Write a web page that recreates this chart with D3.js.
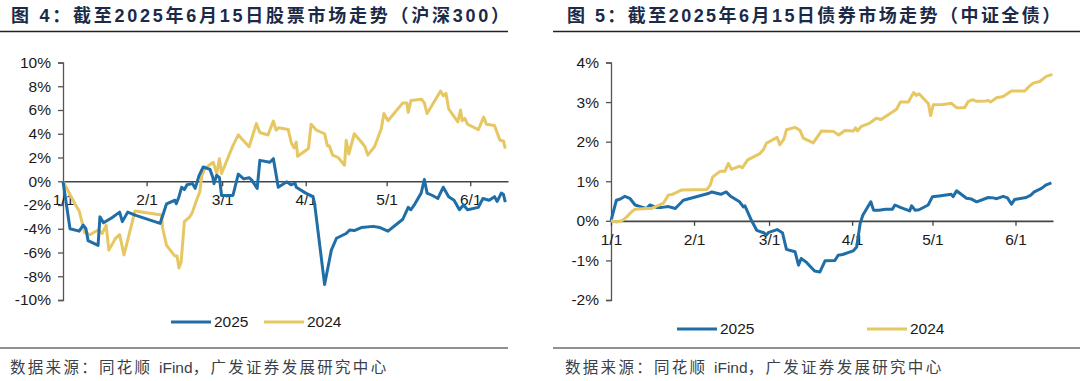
<!DOCTYPE html>
<html><head><meta charset="utf-8">
<script src="https://cdn.jsdelivr.net/npm/d3@7"></script>
<style>
body{margin:0;background:#fff;}
svg{display:block;font-family:"Liberation Sans","Noto Sans CJK SC",sans-serif;}
</style></head>
<body><svg id="c" width="1080" height="381"></svg>
<script>
// ---- data (x = days since Jan 1) ----
const monthTickDays = [0, 31, 59, 90, 120, 151];
const monthTickLabels = ["1/1", "2/1", "3/1", "4/1", "5/1", "6/1"];
const seriesNames = ["2025", "2024"];

const stockTicks = [-10, -8, -6, -4, -2, 0, 2, 4, 6, 8, 10];
const bondTicks = [-2, -1, 0, 1, 2, 3, 4];

const stock2025 = [[0,0],[2.6,-4.0],[6,-4.2],[7.5,-3.7],[8.5,-4.0],[9.3,-5.0],[13,-5.4],[13.7,-3.0],[15,-3.5],[18,-3.1],[21,-2.6],[22,-3.4],[24,-2.6],[26.7,-2.85],[36,-3.55],[38.4,-1.9],[41.5,-1.6],[42,-1.9],[43,-1.3],[44,-0.5],[45,-0.7],[46,-0.3],[48,-0.2],[49,-0.6],[50.5,0.5],[52,1.2],[54.5,1.0],[55.5,0.36],[56,-0.2],[57,0.5],[58,0.3],[58.8,-1.2],[63,-1.2],[65,0.6],[67,0.2],[69,0.3],[70,0.1],[72,-0.6],[73,1.76],[76.7,1.6],[78,1.9],[79,0.6],[79.8,-0.5],[83,-0.05],[84.5,-0.3],[86,-0.15],[86.5,-0.5],[90,-1.0],[92.7,-1.3],[93.3,-1.9],[97,-8.7],[99.5,-5.8],[101.4,-4.8],[105,-4.4],[106.3,-4.1],[108,-4.15],[110.6,-3.9],[115,-3.8],[117.5,-3.9],[120.5,-4.2],[126,-3.2],[128,-2.2],[129,-2.4],[130.5,-1.9],[132.8,-1.0],[134,0.15],[135,-1.0],[137,-1.2],[139,-1.45],[141,-0.5],[143,-1.3],[145,-1.6],[147,-2.4],[148.5,-2.0],[150,-2.4],[154,-2.2],[155.7,-1.45],[158,-1.6],[160,-1.3],[161,-1.7],[162.5,-1.0],[163.3,-1.1],[164,-1.75]];

const stock2024 = [[0,0],[4.4,-1.9],[6,-2.5],[8,-4.3],[10,-4.5],[13,-4.1],[14.5,-4.4],[16,-3.7],[17,-5.8],[19.5,-4.8],[21,-4.5],[22.6,-6.2],[24.5,-4.5],[26.7,-2.5],[36.5,-2.85],[37,-4.0],[38.4,-5.4],[41.5,-6.3],[42.3,-6.3],[43,-7.3],[43.8,-6.8],[45,-3.4],[47,-3.0],[48,-2.6],[49.5,-1.6],[50.7,-0.9],[51.5,0.5],[52.6,1.07],[55.7,1.6],[57,0.65],[58,1.9],[58.8,0.65],[63,3.0],[65,3.9],[69,2.9],[71.7,4.85],[73,4.1],[76,3.9],[78,5.07],[79,4.3],[80,4.5],[83.5,4.35],[84.7,3.2],[85.7,2.8],[86.5,3.3],[87,2.1],[91,2.75],[92,4.8],[94,4.3],[97,4.0],[98,3.0],[98.7,3.0],[100,2.2],[102,2.0],[104.4,1.35],[105,3.45],[106,2.3],[108,4.0],[111,3.2],[112,2.9],[113,2.2],[115.5,2.9],[118,4.4],[119,5.7],[120.5,5.1],[126,6.6],[127.5,6.6],[128,5.8],[129,6.8],[133,6.9],[134,6.6],[135,5.7],[140,7.6],[141,7.2],[142,7.4],[143,6.1],[146.4,5.0],[147.4,6.0],[148,5.1],[149,5.3],[150,4.8],[154,4.35],[156,5.4],[157,4.8],[160,4.7],[162,3.45],[163.3,3.4],[164,2.75]];

const bond2025 = [[0,0],[2,0.52],[3.5,0.55],[5.2,0.62],[7,0.57],[9,0.4],[11,0.36],[13.3,0.31],[14.5,0.4],[17,0.34],[19,0.34],[21.5,0.36],[24,0.31],[27,0.52],[36.3,0.69],[37.6,0.73],[41,0.67],[43,0.73],[44.5,0.63],[48,0.48],[49.4,0.35],[50,0.38],[52.5,0],[54.4,-0.24],[57,-0.3],[58,-0.36],[58.7,-0.3],[62,-0.22],[64,-0.3],[65.5,-0.72],[68.7,-0.78],[70,-1.12],[71,-0.95],[73,-1.05],[76,-1.27],[78,-1.29],[79.9,-1.01],[83.6,-1.0],[84.8,-0.87],[86.5,-0.85],[90.4,-0.76],[91.7,-0.66],[93,-0.07],[94,0.14],[97,0.48],[98,0.27],[100,0.27],[102.5,0.29],[105,0.29],[106,0.4],[108,0.34],[110,0.29],[111.5,0.25],[112.2,0.38],[113.5,0.27],[115,0.28],[118.4,0.4],[120,0.61],[122.5,0.63],[127,0.67],[127.7,0.61],[129,0.76],[132.7,0.57],[134.6,0.55],[136.5,0.48],[140.8,0.59],[142.7,0.58],[144,0.56],[146.4,0.62],[148,0.58],[149.5,0.42],[150.7,0.54],[155,0.59],[156.7,0.65],[158,0.73],[160.7,0.82],[162.5,0.91],[164.4,0.96]];

const bond2024 = [[0,0],[2,-0.03],[4,0],[5.9,0.1],[7.7,0.23],[9,0.29],[13.3,0.31],[15,0.31],[17,0.37],[19.5,0.44],[21.4,0.65],[23,0.67],[26.4,0.78],[35.7,0.79],[37,0.9],[38,1.11],[40.7,1.25],[42.5,1.25],[43.8,1.45],[45,1.3],[48,1.38],[49,1.34],[51,1.54],[55.6,1.7],[57,1.81],[58,1.96],[62,2.11],[63,1.92],[64.5,2.06],[65.5,2.3],[68.7,2.36],[70.5,2.29],[71.8,2.09],[75.5,1.97],[78.6,2.27],[83,2.26],[85,2.17],[87.3,2.28],[90.5,2.27],[91.3,2.35],[92,2.27],[93.3,2.38],[96.6,2.47],[99,2.59],[100.8,2.56],[103.5,2.68],[106.6,2.82],[108,3.0],[111,3.0],[113,3.24],[114,3.17],[115,3.21],[117.8,3.01],[118.5,2.96],[119.3,2.66],[120.3,2.93],[124,2.94],[127,2.97],[129,2.86],[132,2.86],[133.3,3.01],[135,3.06],[136.5,3.02],[140,3.03],[140.8,3.04],[141.7,3.0],[143.9,3.11],[146.4,3.14],[149.5,3.28],[154.5,3.28],[155.7,3.37],[157.6,3.48],[160,3.52],[162.5,3.65],[164.8,3.7]];

const titles = ["图 4：截至2025年6月15日股票市场走势（沪深300）", "图 5：截至2025年6月15日债券市场走势（中证全债）"];
const sourceParts = ["数据来源：同花顺 ", "iFind", "，广发证券发展研究中心"];

// ---- drawing ----
const svg = d3.select("#c");
const BLUE = "#1f6ea8", YELLOW = "#e6c762";
const colors = [BLUE, YELLOW];

function panel(cfg) {
  const g = svg.append("g");
  g.append("text").attr("x", cfg.titleX).attr("y", 22)
    .attr("font-size", 18).attr("font-weight", "bold").attr("fill", "#1b2a47")
    .attr("letter-spacing", cfg.titleSpacing + "px").text(cfg.title);
  g.append("line").attr("x1", cfg.lineX1).attr("x2", cfg.lineX2).attr("y1", 31.5).attr("y2", 31.5)
    .attr("stroke", "#222").attr("stroke-width", 1.6);
  const x = d3.scaleLinear().domain([0, 165]).range([cfg.x0, cfg.x1]);
  const y = d3.scaleLinear().domain(cfg.yDomain).range([300, 62.5]);
  const ya = g.append("g").attr("transform", `translate(${cfg.x0},0)`)
    .call(d3.axisLeft(y).tickValues(cfg.yTicks).tickSize(5).tickPadding(7).tickFormat(d => d + "%"));
  ya.select(".domain").attr("stroke", "#555").attr("stroke-width", 1.3);
  ya.selectAll(".tick line").attr("stroke", "#555").attr("stroke-width", 1.3);
  ya.selectAll("text").attr("font-size", 15.5).attr("fill", "#1a1a1a").attr("font-family", "Liberation Sans");
  const xa = g.append("g").attr("transform", `translate(0,${y(0)})`)
    .call(d3.axisBottom(x).tickValues(monthTickDays).tickSize(5).tickPadding(8)
      .tickFormat((d, i) => monthTickLabels[i]).tickSizeOuter(0));
  xa.select(".domain").attr("stroke", "#444").attr("stroke-width", 1.6);
  xa.selectAll(".tick line").attr("stroke", "#444").attr("stroke-width", 1.3);
  xa.selectAll("text").attr("font-size", 15.5).attr("fill", "#1a1a1a").attr("font-family", "Liberation Sans");
  const line = d3.line().x(d => x(d[0])).y(d => y(d[1]));
  cfg.series.forEach(s => {
    g.append("path").datum(s.data).attr("d", line).attr("fill", "none")
      .attr("stroke", s.color).attr("stroke-width", 3).attr("stroke-linejoin", "round");
  });
  seriesNames.forEach((n, i) => {
    const lx = cfg.legendX[i];
    g.append("line").attr("x1", lx).attr("x2", lx + 40).attr("y1", cfg.legendY).attr("y2", cfg.legendY)
      .attr("stroke", colors[i]).attr("stroke-width", 3);
    g.append("text").attr("x", lx + 43).attr("y", cfg.legendY).attr("dy", "0.35em")
      .attr("font-size", 15.5).attr("fill", "#1a1a1a").text(n);
  });
  g.append("line").attr("x1", cfg.lineX1).attr("x2", cfg.lineX2).attr("y1", 348).attr("y2", 348)
    .attr("stroke", "#222").attr("stroke-width", 1);
  const t = g.append("text").attr("x", cfg.srcX).attr("y", 373).attr("font-size", 15.5).attr("fill", "#3a3f4a");
  t.append("tspan").attr("letter-spacing", "2.3px").text(sourceParts[0]);
  t.append("tspan").attr("font-family", "Liberation Sans").text(sourceParts[1]);
  t.append("tspan").attr("letter-spacing", "2.3px").text(sourceParts[2]);
}

panel({
  title: titles[0], titleX: 11, titleSpacing: 2.75, lineX1: 0, lineX2: 508,
  x0: 63, x1: 508, yDomain: [-10, 10], yTicks: stockTicks,
  series: [{data: stock2024, color: YELLOW}, {data: stock2025, color: BLUE}],
  legendX: [171, 264], legendY: 322, srcX: 10
});
panel({
  title: titles[1], titleX: 567, titleSpacing: 2.45, lineX1: 553, lineX2: 1080,
  x0: 611, x1: 1053, yDomain: [-2, 4], yTicks: bondTicks,
  series: [{data: bond2025, color: BLUE}, {data: bond2024, color: YELLOW}],
  legendX: [677, 867], legendY: 329, srcX: 565
});
</script></body></html>
